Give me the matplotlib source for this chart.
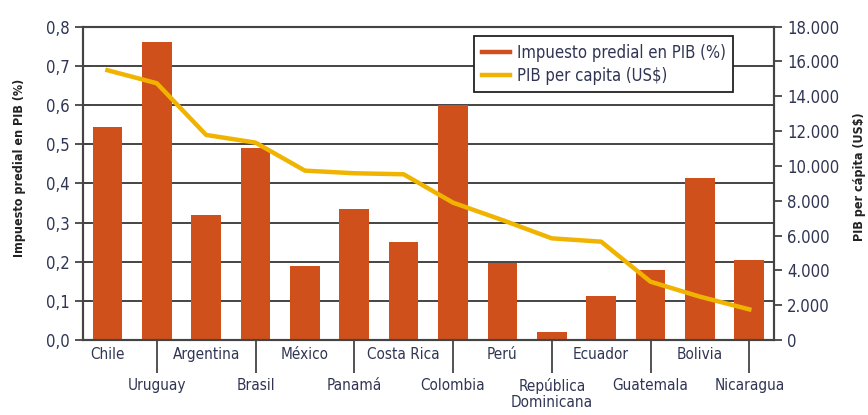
import matplotlib.pyplot as plt
from matplotlib.lines import Line2D
from matplotlib.ticker import FuncFormatter

paises = ["Chile", "Uruguay", "Argentina", "Brasil", "México", "Panamá", "Costa Rica",
          "Colombia", "Perú", "República\nDominicana", "Ecuador", "Guatemala", "Bolivia", "Nicaragua"]
impuesto_pib = [0.545, 0.76, 0.32, 0.49, 0.19, 0.335, 0.25,
                0.60, 0.197, 0.021, 0.112, 0.179, 0.413, 0.205]
pib_capita = [15500, 14750, 11780, 11340, 9730, 9580, 9520,
              7890, 6890, 5840, 5650, 3350, 2490, 1760]

BAR = "#d0501c"
LINE = "#f0b400"
GRID = "#444444"
TXT = "#2f3553"

plt.rcParams["font.family"] = ["DejaVu Sans"]
plt.rcParams["font.stretch"] = "condensed"
plt.rcParams["font.size"] = 11

fig, ax = plt.subplots(figsize=(8.68, 4.15), dpi=100)
fig.subplots_adjust(left=0.0953, right=0.8917, top=0.9357, bottom=0.1807)

x = list(range(len(paises)))
ax.bar(x, impuesto_pib, width=0.6, color=BAR, zorder=2)
ax.set_xlim(-0.5, len(paises) - 0.5)
ax.set_ylim(0, 0.8)
ax.set_yticks([i / 10 for i in range(9)])
ax.yaxis.set_major_formatter(FuncFormatter(lambda v, p: f"{v:.1f}".replace(".", ",")))
ax.grid(axis="y", color=GRID, lw=1.4)
ax.set_axisbelow(True)
ax.tick_params(axis="y", direction="inout", length=12, width=1.3, color=GRID, labelcolor=TXT, labelsize=12)
ax.set_ylabel("Impuesto predial en PIB (%)", fontsize=9, color="#222222", fontweight="semibold")
ax.yaxis.set_label_coords(-0.082, 0.55)

# x labels in two rows
ax.set_xticks([])
ax.set_xticks([i for i in x if i % 2 == 1], minor=True)
ax.tick_params(axis="x", which="minor", direction="out", length=24, width=1.3, color=GRID)
for i, nombre in enumerate(paises):
    off = 5 if i % 2 == 0 else 27
    ax.annotate(nombre, xy=(i, 0), xycoords=ax.get_xaxis_transform(),
                xytext=(0, -off), textcoords="offset points",
                ha="center", va="top", color=TXT, fontsize=11, linespacing=1.15)

ax2 = ax.twinx()
ax2.plot(x, pib_capita, color=LINE, lw=3.2, zorder=3)
ax2.set_ylim(0, 18000)
ax2.set_yticks(range(0, 18001, 2000))
ax2.yaxis.set_major_formatter(FuncFormatter(lambda v, p: f"{int(v):,}".replace(",", ".")))
ax2.tick_params(axis="y", direction="out", length=6, width=1.3, color=GRID, labelcolor=TXT, labelsize=12)
ax2.set_ylabel("PIB per cápita (US$)", fontsize=9, color="#222222", fontweight="semibold")
ax2.yaxis.set_label_coords(1.115, 0.52)

for a in (ax, ax2):
    for s in a.spines.values():
        s.set_color(GRID)
        s.set_linewidth(1.5)
ax.spines["top"].set_color("#888888")

handles = [Line2D([0], [0], color=BAR, lw=3.2), Line2D([0], [0], color=LINE, lw=3.2)]
leg = ax2.legend(handles, ["Impuesto predial en PIB (%)", "PIB per capita (US$)"],
                 loc="upper right", bbox_to_anchor=(0.941, 0.97), borderaxespad=0,
                 fancybox=False, framealpha=1, edgecolor="#222222", fontsize=12,
                 handlelength=1.7, handletextpad=0.4, borderpad=0.45, labelspacing=0.3)
leg.get_frame().set_linewidth(1.3)
for t in leg.get_texts():
    t.set_color(TXT)

plt.savefig("out.png")
